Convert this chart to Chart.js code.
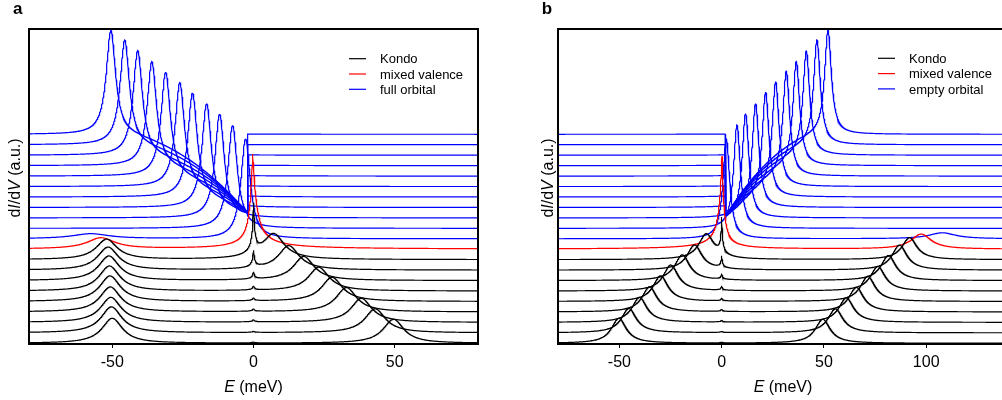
<!DOCTYPE html>
<html>
<head>
<meta charset="utf-8">
<script src="https://cdn.jsdelivr.net/npm/chart.js@4.4.0/dist/chart.umd.min.js"></script>
<style>
html, body { margin: 0; padding: 0; background: #fff; overflow: hidden; width: 1002px; height: 400px; }
canvas { position: absolute; top: 0; }
#graficoA { left: 0; }
#graficoB { left: 500px; }
</style>
</head>
<body>
<canvas id="graficoA" width="490" height="400"></canvas>
<canvas id="graficoB" width="520" height="400"></canvas>
<script>
// espectros dI/dV apilados - panel a (orbital lleno) y panel b (orbital vacio)

// ===== Panel a =====
var ticksA = [-50, 0, 50];
var rangoA = [-79.5, 79.5];
// Kondo (negro), curvas de abajo hacia arriba
var picoIzqA = [-50, -50.3, -50.5, -50.7, -50.8, -51, -51.2, -51.5, -52];
var altoIzqA = [25, 26, 25, 25, 25.5, 25, 24.6, 23, 20.4];
var picoDerA = [49.6, 43.1, 38.2, 32.9, 27.8, 23.1, 17.8, 12.5, 7.2];
var altoDerA = [24, 24, 24, 24.3, 24.2, 23.7, 24, 24.2, 24.7];
var kondoA = [1, 1.2, 2.4, 2.7, 3.2, 4.3, 7.3, 17, 50];
// valencia mixta (rojo): [posicion meV, alto]
var rojoLomaA = [-54, 11];
var rojoPicoA = [-0.3, 95];
// orbital lleno (azul), de abajo hacia arriba
var picoAzulA = [-2.8, -7.4, -12, -16.6, -21.6, -26.1, -31.1, -36, -41, -45.6, -50.5];
var altoAzulA = [100, 103, 104, 104, 104, 104, 104, 104, 104.6, 104.7, 104];
var lomaAzulA = [-57.6, 5];
var nivelCeroA = 131; // nivel al que llegan las colas azules junto a E = 0
var leyendaA = ['Kondo', 'mixed valence', 'full orbital'];

// ===== Panel b =====
var ticksB = [-50, 0, 50, 100];
var rangoB = [-80, 140];
var picoIzqB = [-50.2, -45.3, -40.1, -35.2, -29.8, -24.8, -19.2, -13.2, -7.5];
var altoIzqB = [25, 24.4, 25, 25, 25.7, 26, 25.7, 25, 25];
var picoDerB = [49.5, 55.7, 61, 65.9, 71.5, 76.4, 81.6, 87, 91.9];
var altoDerB = [24, 24, 24.5, 24.5, 25, 24.5, 25, 25, 22];
var kondoB = [1, 1.5, 2, 2.5, 3, 4.3, 5.7, 11.7, 36];
var rojoLomaB = [97.6, 15];
var rojoPicoB = [0.2, 93];
var picoAzulB = [2.3, 7.5, 11.7, 16.6, 21.5, 26.4, 31.6, 36.5, 41.4, 46.6, 52];
var altoAzulB = [99.7, 103.3, 104.4, 104, 105, 105, 105, 104.3, 104.3, 104.7, 104];
var lomaAzulB = [108, 6];
var nivelCeroB = 128;
var leyendaB = ['Kondo', 'mixed valence', 'empty orbital'];

var coloresLeyenda = ['#000000', '#ff0000', '#0000ff'];
var fuente = '"Liberation Sans", Arial, sans-serif';
var paso = 10.45;   // separacion vertical entre curvas
var escalon = 2;    // meV, donde terminan las colas azules

function base(i) {
    return 0.7 + paso * i;
}

function rejilla(min, max) {
    var xs = [];
    var n = Math.round((max - min) * 10);
    for (var i = 0; i <= n; i++) {
        xs.push(Math.round(min * 10 + i) / 10);
    }
    return xs;
}

function pico(E, centro, alto, anchoIzq, anchoDer, p) {
    var d = E - centro;
    var w = d < 0 ? anchoIzq : anchoDer;
    return alto / (1 + Math.pow(Math.abs(d) / w, p));
}

function valorAzul(E, lado, e, alto, off, nivelCero, interiorEnEscalon) {
    var u = lado * E;
    var ep = lado * e;
    var y = off + pico(u, ep, alto, 2, 2, 2);
    if (ep < 2 * escalon) return y;
    var interior = u > escalon || (u === escalon && interiorEnEscalon);
    if (interior && u < ep) {
        var r0 = nivelCero - off - pico(escalon, ep, alto, 2, 2, 2);
        y += r0 * Math.pow((ep - u) / (ep - escalon), 2);
    }
    return y;
}

function linea(data, color) {
    return {
        data: data,
        borderColor: color,
        borderWidth: 1.2,
        pointRadius: 0,
        tension: 0,
        fill: false
    };
}

function construirDatos(p) {
    var xs = rejilla(p.rango[0], p.rango[1]);
    var sets = [];

    // Kondo
    for (var i = 0; i < p.picoIzq.length; i++) {
        var off = base(i);
        var data = [];
        for (var k = 0; k < xs.length; k++) {
            var E = xs[k];
            var y = off + pico(E, p.picoIzq[i], p.altoIzq[i], 4.5, 4.5, 2)
                + pico(E, p.picoDer[i], p.altoDer[i], 4.5, 4.5, 2)
                + pico(E, 0, p.kondo[i], 0.4, 0.4, 1.2);
            data.push({ x: E, y: y });
        }
        sets.push(linea(data, '#000000'));
    }

    // valencia mixta
    var offR = base(9);
    var dataR = [];
    for (var k = 0; k < xs.length; k++) {
        var E = xs[k];
        var y = offR + pico(E, p.rojoLoma[0], p.rojoLoma[1], 6, 6, 2)
            + pico(E, p.rojoPico[0], p.rojoPico[1], p.anchoRojo[0], p.anchoRojo[1], 1.25);
        dataR.push({ x: E, y: y });
    }
    sets.push(linea(dataR, '#ff0000'));

    // orbital
    var xEsc = p.lado * escalon;
    var izqInterior = p.lado < 0;
    for (var j = 0; j < p.picoAzul.length; j++) {
        var offB = base(10 + j);
        var dataB = [];
        for (var k = 0; k < xs.length; k++) {
            var E = xs[k];
            var extra = 0;
            if (j === 0) extra = pico(E, p.lomaAzul[0], p.lomaAzul[1], 8, 8, 2);
            if (E === xEsc) {
                // escalon: primero el valor del lado izquierdo
                dataB.push({ x: E, y: valorAzul(E, p.lado, p.picoAzul[j], p.altoAzul[j], offB, p.nivelCero, izqInterior) + extra });
                dataB.push({ x: E, y: valorAzul(E, p.lado, p.picoAzul[j], p.altoAzul[j], offB, p.nivelCero, !izqInterior) + extra });
            } else {
                dataB.push({ x: E, y: valorAzul(E, p.lado, p.picoAzul[j], p.altoAzul[j], offB, p.nivelCero, false) + extra });
            }
        }
        sets.push(linea(dataB, '#0000ff'));
    }
    return sets;
}

function textoMixto(ctx, partes, size, x0, y0) {
    var x = x0;
    for (var i = 0; i < partes.length; i++) {
        ctx.font = (partes[i][1] ? 'italic ' : '') + size + 'px ' + fuente;
        ctx.fillText(partes[i][0], x, y0);
        x += ctx.measureText(partes[i][0]).width;
    }
}

function anchoMixto(ctx, partes, size) {
    var w = 0;
    for (var i = 0; i < partes.length; i++) {
        ctx.font = (partes[i][1] ? 'italic ' : '') + size + 'px ' + fuente;
        w += ctx.measureText(partes[i][0]).width;
    }
    return w;
}

var marco = {
    id: 'marco',
    afterDraw: function(chart) {
        var ctx = chart.ctx;
        var a = chart.chartArea;
        var op = chart.options.plugins.marco;
        ctx.save();
        ctx.strokeStyle = '#000';
        ctx.lineWidth = 2;
        ctx.strokeRect(a.left, a.top, a.right - a.left, a.bottom - a.top);
        ctx.fillStyle = '#000';
        ctx.textBaseline = 'alphabetic';

        // letra del panel
        ctx.font = 'bold 17px ' + fuente;
        ctx.fillText(op.letra, op.letraX, 14);

        // titulo eje x
        var tx = [['E', true], [' (meV)', false]];
        var cx = (a.left + a.right) / 2;
        textoMixto(ctx, tx, 16, cx - anchoMixto(ctx, tx, 16) / 2, 392);

        // titulo eje y
        var ty = [['d', false], ['I', true], ['/d', false], ['V', true], [' (a.u.)', false]];
        ctx.save();
        ctx.translate(op.tituloY, 178);
        ctx.rotate(-Math.PI / 2);
        textoMixto(ctx, ty, 16, -anchoMixto(ctx, ty, 16) / 2, 0);
        ctx.restore();

        // leyenda
        ctx.font = '13px ' + fuente;
        ctx.lineWidth = 1.2;
        for (var i = 0; i < op.leyenda.length; i++) {
            var yy = op.leyY + i * 15.3;
            ctx.strokeStyle = coloresLeyenda[i];
            ctx.beginPath();
            ctx.moveTo(op.leyX, yy);
            ctx.lineTo(op.leyX + 17, yy);
            ctx.stroke();
            ctx.fillStyle = '#000';
            ctx.fillText(op.leyenda[i], op.leyX + 31, yy + 4.6);
        }
        ctx.restore();
    }
};

function crearGrafico(id, p) {
    var ctx = document.getElementById(id).getContext('2d');
    new Chart(ctx, {
        type: 'line',
        data: { datasets: construirDatos(p) },
        options: {
            responsive: false,
            animation: false,
            parsing: false,
            normalized: true,
            events: [],
            layout: { padding: { left: p.padIzq, right: p.padDer, top: 29, bottom: 0 } },
            plugins: {
                legend: { display: false },
                tooltip: { enabled: false },
                marco: p.marco
            },
            scales: {
                x: {
                    type: 'linear',
                    min: p.rango[0],
                    max: p.rango[1],
                    afterBuildTicks: function(s) {
                        s.ticks = p.ticks.map(function(v) { return { value: v }; });
                    },
                    afterFit: function(s) { s.height = 56; },
                    grid: { drawOnChartArea: false, drawTicks: true, tickLength: 4, color: '#000', lineWidth: 1 },
                    border: { display: true, color: '#000', width: 2 },
                    ticks: { color: '#000', font: { family: fuente, size: 16 }, padding: 5, maxRotation: 0 }
                },
                y: { display: false, min: 0, max: 315 }
            }
        },
        plugins: [marco]
    });
}

crearGrafico('graficoA', {
    rango: rangoA, ticks: ticksA, lado: -1,
    picoIzq: picoIzqA, altoIzq: altoIzqA, picoDer: picoDerA, altoDer: altoDerA, kondo: kondoA,
    rojoLoma: rojoLomaA, rojoPico: rojoPicoA, anchoRojo: [0.9, 1.3],
    picoAzul: picoAzulA, altoAzul: altoAzulA, lomaAzul: lomaAzulA, nivelCero: nivelCeroA,
    padIzq: 29, padDer: 12,
    marco: { letra: 'a', letraX: 13, tituloY: 19.5, leyenda: leyendaA, leyX: 349, leyY: 58.7 }
});

crearGrafico('graficoB', {
    rango: rangoB, ticks: ticksB, lado: 1,
    picoIzq: picoIzqB, altoIzq: altoIzqB, picoDer: picoDerB, altoDer: altoDerB, kondo: kondoB,
    rojoLoma: rojoLomaB, rojoPico: rojoPicoB, anchoRojo: [1.3, 0.9],
    picoAzul: picoAzulB, altoAzul: altoAzulB, lomaAzul: lomaAzulB, nivelCero: nivelCeroB,
    padIzq: 58, padDer: 12,
    marco: { letra: 'b', letraX: 41.7, tituloY: 52.5, leyenda: leyendaB, leyX: 378, leyY: 58.3 }
});
</script>
</body>
</html>
